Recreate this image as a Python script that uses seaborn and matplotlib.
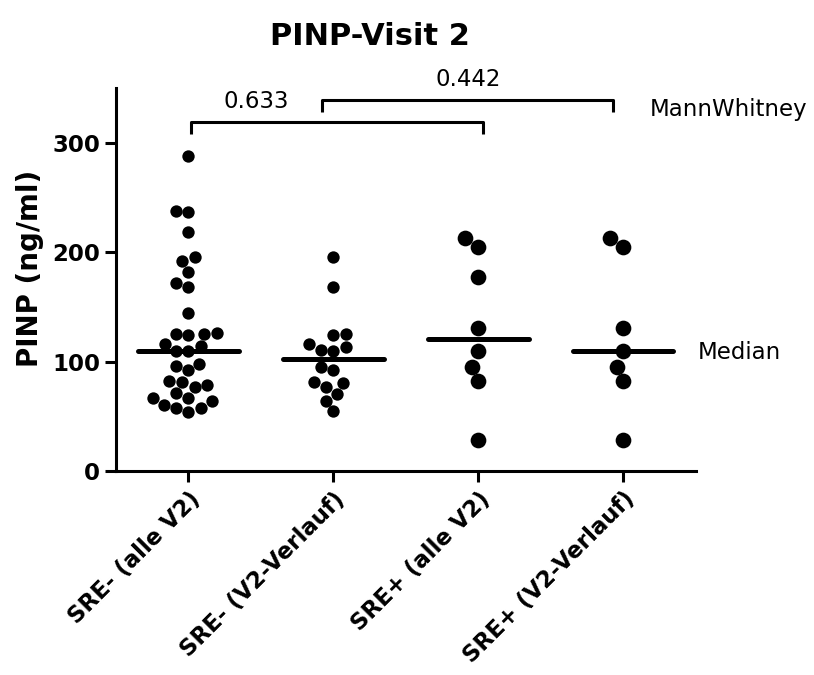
import pandas as pd
import matplotlib.pyplot as plt
import seaborn as sns

# ============================
# Daten
# ============================
groups = ['SRE- (alle V2)', 'SRE- (V2-Verlauf)', 'SRE+ (alle V2)', 'SRE+ (V2-Verlauf)']

sre_neg_all = [288, 238, 237, 218, 196, 192, 182, 172, 168, 144, 126, 125, 125, 124,
               116, 114, 110, 110, 98, 96, 92, 82, 81, 79, 77, 71, 67, 67, 64, 60,
               58, 58, 54]
sre_neg_course = [196, 168, 125, 124, 116, 113, 111, 110, 95, 92, 81, 80, 77, 70, 64, 55]
sre_pos_all = [213, 205, 177, 131, 110, 95, 82, 28]
sre_pos_course = [213, 205, 131, 110, 95, 82, 28]

p_values = ['0.633', '0.442']
bracket_spans = [(0.02, 2.03), (0.92, 2.93)]
bracket_heights = [319, 339]
p_label_x = [0.47, 1.93]

yticks = [0, 100, 200, 300]

# ============================
# Tabelle
# ============================
values = dict(zip(groups, [sre_neg_all, sre_neg_course, sre_pos_all, sre_pos_course]))
df = pd.DataFrame([(g, v) for g, vals in values.items() for v in vals],
                  columns=['group', 'pinp'])

sns.set_style("ticks")
plt.rcParams['font.family'] = ['DejaVu Sans']
plt.rcParams['text.color'] = 'black'
plt.rcParams['axes.labelcolor'] = 'black'
plt.rcParams['axes.edgecolor'] = 'black'

fig = plt.figure(figsize=(8.14, 6.75), dpi=100)
ax = fig.add_axes([0.1425, 0.3022, 0.7125, 0.5674])

# Punkte: SRE- kleiner, SRE+ groesser
small = df[df['group'].isin(groups[:2])]
big = df[df['group'].isin(groups[2:])]
sns.swarmplot(data=small, x='group', y='pinp', order=groups, color='black',
              size=8.9, linewidth=0, ax=ax)
sns.swarmplot(data=big, x='group', y='pinp', order=groups, color='black',
              size=11.3, linewidth=0, ax=ax)

# Median als Linie
sns.boxplot(data=df, x='group', y='pinp', order=groups, width=0.69, fill=False,
            whis=0, showfliers=False, showcaps=False,
            boxprops=dict(linewidth=0),
            whiskerprops=dict(linewidth=0),
            medianprops=dict(color='black', linewidth=3.6, solid_capstyle='round', zorder=5),
            ax=ax)

ax.set_xlim(-0.5, 3.5)
ax.set_ylim(0, 350)
ax.set_yticks(yticks)
ax.set_xlabel('')
ax.set_ylabel('PINP (ng/ml)', fontsize=20, fontweight='bold')
ax.yaxis.set_label_coords(-0.124, 0.53)

sns.despine(ax=ax)
for side in ['left', 'bottom']:
    ax.spines[side].set_linewidth(2.2)
    ax.spines[side].set_color('black')
ax.tick_params(width=2.2, length=8, colors='black')
ax.tick_params(axis='y', labelsize=16.5)
ax.tick_params(axis='x', labelsize=16.5, pad=4)
for lbl in ax.get_yticklabels():
    lbl.set_fontweight('bold')
for lbl in ax.get_xticklabels():
    lbl.set_fontweight('bold')
    lbl.set_rotation(45)
    lbl.set_ha('right')
    lbl.set_rotation_mode('anchor')

# Mann-Whitney Klammern
for (x0, x1), h, p, lx in zip(bracket_spans, bracket_heights, p_values, p_label_x):
    ax.plot([x0, x0, x1, x1], [h - 11, h, h, h - 11], color='black', lw=2.2,
            clip_on=False, solid_capstyle='butt')
    ax.text(lx, h + 19, p, ha='center', va='center', fontsize=16.5, clip_on=False)

ax.text(3.18, 330, 'MannWhitney', ha='left', va='center', fontsize=16.5, clip_on=False)
ax.text(3.51, 108, 'Median', ha='left', va='center', fontsize=16.5, clip_on=False)

fig.text(0.455, 0.946, 'PINP-Visit 2', ha='center', va='center',
         fontsize=22, fontweight='bold')

fig.savefig('out.png', dpi=100)
